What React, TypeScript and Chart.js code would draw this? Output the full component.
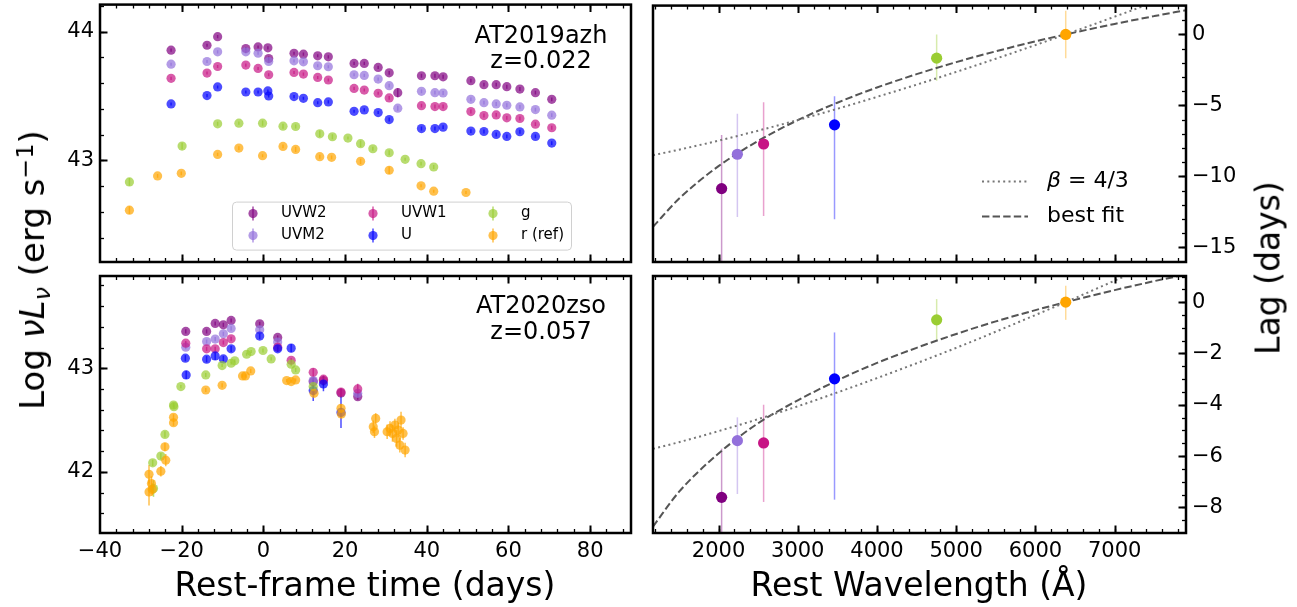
import React, { useEffect, useRef } from "react";
import { Chart, registerables } from "chart.js";

Chart.register(...registerables);

const FONT = "'DejaVu Sans', 'Liberation Sans', sans-serif";

// ---------------- AT2019azh light curves (rest-frame days, log nuLnu) ----------------
const AZH_UVW2_T = [-22.6, -13.8, -11.2, -4.3, -1.3, 1.1, 1.3, 7.5, 9.8, 13.3, 15.9, 22.2, 24.7, 28.1, 30.8, 32.9, 38.7, 42.0, 44.0, 50.8, 54.0, 57.0, 59.6, 62.8, 66.6, 70.6];
const AZH_UVW2_L = [43.856, 43.894, 43.961, 43.869, 43.881, 43.874, 43.791, 43.832, 43.825, 43.812, 43.804, 43.753, 43.753, 43.722, 43.68, 43.526, 43.657, 43.657, 43.649, 43.619, 43.588, 43.588, 43.572, 43.554, 43.526, 43.474];
const AZH_UVW2_E = [0.012, 0.012, 0.012, 0.012, 0.012, 0.012, 0.015, 0.012, 0.012, 0.012, 0.012, 0.012, 0.012, 0.012, 0.015, 0.035, 0.015, 0.015, 0.015, 0.015, 0.015, 0.015, 0.015, 0.015, 0.015, 0.015];

const AZH_UVM2_T = [-22.6, -13.8, -11.2, -4.3, -1.3, 1.3, 7.5, 9.8, 13.3, 15.9, 22.2, 24.7, 28.1, 30.8, 32.9, 38.7, 42.0, 44.0, 50.8, 54.0, 57.0, 59.6, 62.8, 66.6, 70.6];
const AZH_UVM2_L = [43.747, 43.768, 43.843, 43.843, 43.832, 43.768, 43.773, 43.765, 43.735, 43.727, 43.665, 43.66, 43.631, 43.58, 43.405, 43.536, 43.526, 43.523, 43.474, 43.448, 43.438, 43.428, 43.415, 43.394, 43.351];
const AZH_UVM2_E = [0.012, 0.012, 0.012, 0.012, 0.012, 0.012, 0.012, 0.012, 0.012, 0.012, 0.012, 0.012, 0.012, 0.015, 0.02, 0.015, 0.015, 0.015, 0.015, 0.015, 0.015, 0.015, 0.015, 0.015, 0.015];

const AZH_UVW1_T = [-22.6, -13.8, -11.2, -4.3, -1.3, 1.3, 7.5, 9.8, 13.3, 15.9, 22.2, 24.7, 28.1, 30.8, 38.7, 42.0, 44.0, 50.8, 54.0, 57.0, 59.6, 62.8, 66.6, 70.6];
const AZH_UVW1_L = [43.637, 43.678, 43.729, 43.74, 43.714, 43.665, 43.683, 43.67, 43.644, 43.624, 43.559, 43.546, 43.521, 43.485, 43.425, 43.418, 43.418, 43.379, 43.348, 43.353, 43.33, 43.325, 43.281, 43.253];
const AZH_UVW1_E = [0.012, 0.012, 0.012, 0.012, 0.012, 0.012, 0.012, 0.012, 0.012, 0.012, 0.012, 0.012, 0.012, 0.015, 0.015, 0.015, 0.015, 0.015, 0.015, 0.015, 0.015, 0.015, 0.015, 0.015];

const AZH_U_T = [-22.6, -13.8, -11.2, -4.3, -1.3, 1.1, 1.3, 7.5, 9.8, 13.3, 15.9, 22.2, 24.7, 28.1, 30.8, 38.7, 42.0, 44.0, 50.8, 54.0, 57.0, 59.6, 62.8, 66.6, 70.6];
const AZH_U_L = [43.438, 43.503, 43.57, 43.531, 43.531, 43.539, 43.5, 43.495, 43.482, 43.448, 43.454, 43.381, 43.392, 43.371, 43.317, 43.247, 43.247, 43.258, 43.227, 43.224, 43.201, 43.186, 43.222, 43.186, 43.134];
const AZH_U_E = [0.012, 0.012, 0.012, 0.012, 0.012, 0.012, 0.012, 0.012, 0.012, 0.012, 0.012, 0.012, 0.012, 0.012, 0.015, 0.015, 0.015, 0.015, 0.015, 0.015, 0.015, 0.015, 0.015, 0.015, 0.015];

const AZH_G_T = [-32.8, -19.9, -11.2, -6.0, -0.2, 4.8, 7.9, 13.8, 16.9, 20.7, 23.8, 26.8, 30.8, 34.7, 38.6, 41.7];
const AZH_G_L = [42.832, 43.111, 43.284, 43.289, 43.289, 43.265, 43.263, 43.206, 43.183, 43.173, 43.129, 43.09, 43.059, 43.008, 42.974, 42.948];
const AZH_G_E = [0.03, 0.025, 0.015, 0.012, 0.02, 0.02, 0.015, 0.025, 0.02, 0.012, 0.025, 0.015, 0.02, 0.012, 0.015, 0.015];

const AZH_R_T = [-32.8, -25.9, -20.1, -11.2, -6.0, -0.2, 4.8, 7.9, 13.8, 16.7, 23.8, 30.8, 38.6, 41.7, 49.6];
const AZH_R_L = [42.613, 42.879, 42.899, 43.046, 43.095, 43.036, 43.108, 43.085, 43.028, 43.023, 42.992, 42.923, 42.802, 42.76, 42.75];
const AZH_R_E = [0.03, 0.015, 0.015, 0.012, 0.015, 0.012, 0.015, 0.02, 0.015, 0.015, 0.02, 0.03, 0.012, 0.012, 0.012];

// ---------------- AT2020zso light curves ----------------
const ZSO_UVW2_T = [-19.0, -13.9, -11.8, -9.8, -7.9, -0.9, 3.5, 12.2, 14.7, 19.0, 23.1];
const ZSO_UVW2_L = [43.355, 43.355, 43.432, 43.419, 43.461, 43.429, 43.297, 42.87, 42.881, 42.761, 42.726];
const ZSO_UVW2_E = [0.02, 0.02, 0.02, 0.02, 0.02, 0.02, 0.02, 0.03, 0.05, 0.04, 0.03];

const ZSO_UVM2_T = [-19.0, -13.9, -11.8, -9.8, -7.9, -0.9, 3.5, 12.2, 23.1];
const ZSO_UVM2_L = [43.203, 43.258, 43.281, 43.332, 43.384, 43.371, 43.252, 42.881, 42.758];
const ZSO_UVM2_E = [0.02, 0.02, 0.02, 0.02, 0.02, 0.02, 0.02, 0.03, 0.03];

const ZSO_UVW1_T = [-19.0, -13.9, -11.8, -9.8, -7.9, 3.5, 6.8, 12.2, 14.7, 19.0, 23.1];
const ZSO_UVW1_L = [43.242, 43.187, 43.187, 43.248, 43.284, 43.203, 43.077, 42.961, 42.894, 42.77, 42.8];
const ZSO_UVW1_E = [0.02, 0.02, 0.02, 0.02, 0.02, 0.02, 0.02, 0.04, 0.03, 0.04, 0.05];

const ZSO_U_T = [-19.1, -18.9, -13.9, -11.8, -9.8, -7.9, -0.9, 3.5, 6.8, 12.2, 14.7, 19.0];
const ZSO_U_L = [43.097, 42.935, 43.087, 43.119, 43.09, 43.187, 43.31, 43.187, 43.194, 42.784, 42.848, 42.574];
const ZSO_U_E = [0.03, 0.04, 0.03, 0.04, 0.03, 0.03, 0.03, 0.03, 0.04, 0.1, 0.07, 0.15];

const ZSO_G_T = [-27.1, -26.9, -25.1, -24.1, -22.0, -21.9, -20.2, -14.1, -10.1, -7.9, -7.0, -4.1, -3.0, -0.1, 1.9, 6.8, 7.9, 12.2];
const ZSO_G_L = [42.087, 41.839, 42.152, 42.361, 42.645, 42.629, 42.823, 42.935, 43.026, 43.048, 43.071, 43.135, 43.161, 43.171, 43.09, 43.039, 42.984, 42.823];
const ZSO_G_E = [0.03, 0.08, 0.03, 0.03, 0.02, 0.02, 0.015, 0.02, 0.015, 0.015, 0.015, 0.015, 0.015, 0.02, 0.015, 0.02, 0.02, 0.03];

const ZSO_R_T = [-28.0, -28.0, -27.4, -27.2, -25.1, -24.1, -23.9, -22.0, -22.0, -14.1, -10.1, -5.1, -4.4, -3.1, 5.7, 6.8, 7.9, 12.4, 19.0, 19.1, 26.9, 27.2, 27.5, 30.3, 31.0, 31.6, 32.2, 32.6, 33.0, 33.4, 33.7, 34.2, 34.7];
const ZSO_R_L = [41.806, 41.977, 41.887, 41.83, 42.006, 42.242, 42.113, 42.526, 42.474, 42.79, 42.835, 42.926, 42.926, 42.974, 42.881, 42.871, 42.887, 42.758, 42.613, 42.558, 42.435, 42.387, 42.516, 42.387, 42.419, 42.371, 42.452, 42.323, 42.403, 42.258, 42.5, 42.371, 42.21];
const ZSO_R_E = [0.13, 0.09, 0.07, 0.06, 0.05, 0.04, 0.06, 0.03, 0.03, 0.02, 0.02, 0.015, 0.015, 0.02, 0.015, 0.015, 0.015, 0.03, 0.04, 0.04, 0.06, 0.06, 0.05, 0.07, 0.07, 0.08, 0.06, 0.08, 0.07, 0.07, 0.08, 0.06, 0.07];

// ---------------- Lags vs rest wavelength ----------------
const BAND_WL = [2039, 2238, 2569, 3464, 4753, 6382];
const AZH_LAG = [-10.86, -8.44, -7.72, -6.37, -1.67, 0];
const AZH_LAG_EHI = [3.77, 2.86, 2.95, 2.02, 1.67, 1.67];
const AZH_LAG_ELO = [6.5, 4.42, 5.07, 6.65, 1.59, 1.67];
const ZSO_LAG = [-7.61, -5.4, -5.49, -2.99, -0.69, 0];
const ZSO_LAG_EHI = [1.9, 0.91, 1.49, 1.81, 0.81, 0.64];
const ZSO_LAG_ELO = [1.9, 2.08, 2.3, 4.71, 0.78, 0.69];

const MODEL_WL = [1173, 1500, 2000, 2500, 3000, 3500, 4000, 4500, 5000, 5500, 6000, 6382, 7000, 7500, 7900];
const AZH_BETA43 = [-8.51, -8.12, -7.48, -6.78, -6.03, -5.24, -4.4, -3.54, -2.64, -1.71, -0.75, 0, 1.25, 2.28, 3.13];
const AZH_BESTFIT = [-13.55, -11.58, -9.28, -7.5, -6.04, -4.81, -3.74, -2.8, -1.95, -1.19, -0.49, 0, 0.74, 1.29, 1.71];
const ZSO_BETA43 = [-5.72, -5.46, -5.03, -4.56, -4.06, -3.52, -2.96, -2.38, -1.78, -1.15, -0.5, 0, 0.84, 1.53, 2.11];
const ZSO_BESTFIT = [-8.75, -7.4, -5.9, -4.72, -3.83, -3.05, -2.37, -1.78, -1.24, -0.75, -0.31, 0, 0.47, 0.82, 1.08];

const BAND_NAMES = ["UVW2", "UVM2", "UVW1", "U", "g", "r (ref)"];
const BAND_COLORS = ["#800080", "#9370DB", "#C71585", "#0000FF", "#9ACD32", "#FFA500"];

// ---------------- helpers ----------------
function rgba(hex: string, a: number) {
  const n = parseInt(hex.slice(1), 16);
  return `rgba(${(n >> 16) & 255},${(n >> 8) & 255},${n & 255},${a})`;
}
const pts = (xs: number[], ys: number[]) => xs.map((x, i) => ({ x, y: ys[i] }));
const fmt = (v: any) => {
  const r = Math.round(Number(v));
  return r < 0 ? "\u2212" + Math.abs(r) : String(r);
};
function tickVals(min: number, max: number, step: number) {
  const out: number[] = [];
  const k0 = Math.ceil(min / step - 1e-9);
  const k1 = Math.floor(max / step + 1e-9);
  for (let k = k0; k <= k1; k++) out.push(Math.round(k * step * 1e6) / 1e6);
  return out;
}

function lcSet(k: number, t: number[], v: number[], e: number[]) {
  return {
    label: BAND_NAMES[k],
    data: pts(t, v),
    errLo: e,
    errHi: e,
    errColor: rgba(BAND_COLORS[k], 0.7),
    errWidth: 1.5,
    showLine: false,
    pointRadius: 4.6,
    pointBackgroundColor: rgba(BAND_COLORS[k], 0.7),
    pointBorderWidth: 0,
    backgroundColor: rgba(BAND_COLORS[k], 0.7),
    borderColor: rgba(BAND_COLORS[k], 0.7),
    order: 10 - k,
  };
}
function lagSets(lag: number[], elo: number[], ehi: number[]) {
  return BAND_WL.map((w, k) => ({
    label: BAND_NAMES[k],
    data: [{ x: w, y: lag[k] }],
    errLo: [elo[k]],
    errHi: [ehi[k]],
    errColor: rgba(BAND_COLORS[k], 0.4),
    errWidth: 1.5,
    showLine: false,
    pointRadius: 5.6,
    pointBackgroundColor: BAND_COLORS[k],
    pointBorderWidth: 0,
    backgroundColor: BAND_COLORS[k],
    borderColor: BAND_COLORS[k],
    order: 10 - k,
  }));
}
function modelLine(label: string, y: number[], dash: number[], color: string) {
  return {
    label,
    data: pts(MODEL_WL, y),
    showLine: true,
    pointRadius: 0,
    borderColor: color,
    borderWidth: 2,
    borderDash: dash,
    cubicInterpolationMode: "monotone",
    fill: false,
    order: 30,
  };
}

const errorBars = {
  id: "errorBars",
  beforeDatasetsDraw(chart: any) {
    const { ctx, chartArea: a } = chart;
    ctx.save();
    ctx.beginPath();
    ctx.rect(a.left, a.top, a.right - a.left, a.bottom - a.top);
    ctx.clip();
    chart.data.datasets.forEach((ds: any, i: number) => {
      if (!ds.errLo) return;
      const meta = chart.getDatasetMeta(i);
      const ys = chart.scales[meta.yAxisID];
      ctx.strokeStyle = ds.errColor;
      ctx.lineWidth = ds.errWidth;
      ds.data.forEach((p: any, j: number) => {
        const el = meta.data[j];
        if (!el) return;
        ctx.beginPath();
        ctx.moveTo(el.x, ys.getPixelForValue(p.y - ds.errLo[j]));
        ctx.lineTo(el.x, ys.getPixelForValue(p.y + ds.errHi[j]));
        ctx.stroke();
      });
    });
    ctx.restore();
  },
};

type Spec = {
  width: number;
  height: number;
  datasets: any[];
  x: [number, number, number, number];
  y: [number, number, number, number];
  showX: boolean;
  yPos: "left" | "right";
  padding: { left: number; right: number; top: number; bottom: number };
  xHeight: number;
  yWidth: number;
  extra?: (ctx: CanvasRenderingContext2D, a: any) => void;
};

function decor(s: Spec) {
  return {
    id: "decor",
    afterDraw(chart: any) {
      const { ctx, chartArea: a, scales } = chart;
      const xs = scales.x;
      const ys = scales.y;
      ctx.save();
      ctx.strokeStyle = "#000";
      const [x0, x1, xMaj, xMin] = s.x;
      const [y0, y1, yMaj, yMin] = s.y;
      const xTick = (vals: number[], len: number, w: number) => {
        ctx.lineWidth = w;
        vals.forEach((v) => {
          const p = Math.round(xs.getPixelForValue(v)) + 0.5;
          if (p <= a.left + 1 || p >= a.right - 1) return;
          ctx.beginPath();
          ctx.moveTo(p, a.bottom);
          ctx.lineTo(p, a.bottom - len);
          ctx.moveTo(p, a.top);
          ctx.lineTo(p, a.top + len);
          ctx.stroke();
        });
      };
      const yTick = (vals: number[], len: number, w: number) => {
        ctx.lineWidth = w;
        const edge = s.yPos === "left" ? a.left : a.right;
        const dir = s.yPos === "left" ? 1 : -1;
        vals.forEach((v) => {
          const p = Math.round(ys.getPixelForValue(v)) + 0.5;
          if (p <= a.top + 1 || p >= a.bottom - 1) return;
          ctx.beginPath();
          ctx.moveTo(edge, p);
          ctx.lineTo(edge + dir * len, p);
          ctx.stroke();
        });
      };
      xTick(tickVals(x0, x1, xMin), 4, 1.3);
      xTick(tickVals(x0, x1, xMaj), 7.5, 2);
      yTick(tickVals(y0, y1, yMin), 4, 1.3);
      yTick(tickVals(y0, y1, yMaj), 7.5, 2);
      ctx.lineWidth = 2.5;
      ctx.strokeRect(a.left, a.top, a.right - a.left, a.bottom - a.top);
      if (s.extra) s.extra(ctx, a);
      ctx.restore();
    },
  };
}

function buildConfig(s: Spec): any {
  const tickFont = { family: FONT, size: 21 };
  return {
    type: "scatter",
    data: { datasets: s.datasets },
    options: {
      responsive: false,
      animation: false,
      devicePixelRatio: 1,
      events: [],
      layout: { padding: s.padding },
      plugins: { legend: { display: false }, tooltip: { enabled: false } },
      scales: {
        x: {
          type: "linear",
          min: s.x[0],
          max: s.x[1],
          grid: { display: false, drawTicks: false, tickLength: 0 },
          border: { display: false },
          ticks: {
            display: s.showX,
            autoSkip: false,
            maxRotation: 0,
            minRotation: 0,
            padding: 6,
            color: "#000",
            font: tickFont,
            callback: fmt,
          },
          afterBuildTicks: (sc: any) => {
            sc.ticks = tickVals(s.x[0], s.x[1], s.x[2]).map((value) => ({ value }));
          },
          afterFit: (sc: any) => {
            sc.height = s.xHeight;
            sc.paddingLeft = 0;
            sc.paddingRight = 0;
          },
        },
        y: {
          type: "linear",
          position: s.yPos,
          min: s.y[0],
          max: s.y[1],
          grid: { display: false, drawTicks: false, tickLength: 0 },
          border: { display: false },
          ticks: {
            autoSkip: false,
            padding: 6,
            color: "#000",
            font: tickFont,
            callback: fmt,
          },
          afterBuildTicks: (sc: any) => {
            sc.ticks = tickVals(s.y[0], s.y[1], s.y[2]).map((value) => ({ value }));
          },
          afterFit: (sc: any) => {
            sc.width = s.yWidth;
            sc.paddingTop = 0;
            sc.paddingBottom = 0;
          },
        },
      },
    },
    plugins: [errorBars, decor(s)],
  };
}

function annot(ctx: CanvasRenderingContext2D, x: number, y: number, lines: string[]) {
  ctx.fillStyle = "#000";
  ctx.font = `24px ${FONT}`;
  ctx.textAlign = "center";
  ctx.textBaseline = "middle";
  lines.forEach((t, i) => ctx.fillText(t, x, y + i * 25.5));
}

function bandLegend(ctx: CanvasRenderingContext2D, a: any) {
  const bx = a.left + 132;
  const by = a.top + 197;
  const bw = 339;
  const bh = 48;
  ctx.beginPath();
  ctx.roundRect(bx + 0.5, by + 0.5, bw, bh, 4);
  ctx.fillStyle = "rgba(255,255,255,0.8)";
  ctx.fill();
  ctx.strokeStyle = "#d0d0d0";
  ctx.lineWidth = 1;
  ctx.stroke();
  const cols = [a.left + 153, a.left + 273, a.left + 393];
  const rows = [a.top + 209, a.top + 231];
  BAND_NAMES.forEach((name, k) => {
    const cx = cols[Math.floor(k / 2)];
    const cy = rows[k % 2];
    const col = rgba(BAND_COLORS[k], 0.7);
    ctx.strokeStyle = col;
    ctx.lineWidth = 1.5;
    ctx.beginPath();
    ctx.moveTo(cx, cy - 7);
    ctx.lineTo(cx, cy + 7);
    ctx.stroke();
    ctx.fillStyle = col;
    ctx.beginPath();
    ctx.arc(cx, cy, 4.6, 0, Math.PI * 2);
    ctx.fill();
    ctx.fillStyle = "#000";
    ctx.font = `15px ${FONT}`;
    ctx.textAlign = "left";
    ctx.textBaseline = "middle";
    ctx.fillText(name, cx + 28, cy);
  });
}

function modelLegend(ctx: CanvasRenderingContext2D, a: any) {
  const x0 = a.left + 329;
  const x1 = a.left + 375;
  const tx = a.left + 394;
  const rows = [a.top + 176, a.top + 211];
  ctx.lineWidth = 2;
  ctx.strokeStyle = "#777";
  ctx.setLineDash([2, 3.3]);
  ctx.beginPath();
  ctx.moveTo(x0, rows[0]);
  ctx.lineTo(x1, rows[0]);
  ctx.stroke();
  ctx.strokeStyle = "#555";
  ctx.setLineDash([7.4, 3.2]);
  ctx.beginPath();
  ctx.moveTo(x0, rows[1]);
  ctx.lineTo(x1, rows[1]);
  ctx.stroke();
  ctx.setLineDash([]);
  ctx.fillStyle = "#000";
  ctx.textAlign = "left";
  ctx.textBaseline = "middle";
  ctx.font = `italic 22px ${FONT}`;
  ctx.fillText("\u03B2", tx, rows[0]);
  const bw = ctx.measureText("\u03B2").width;
  ctx.font = `22px ${FONT}`;
  ctx.fillText(" = 4/3", tx + bw, rows[0]);
  ctx.fillText("best fit", tx, rows[1]);
}

const SPECS: { left: number; top: number; spec: Spec }[] = [
  {
    left: 0,
    top: 0,
    spec: {
      width: 640,
      height: 268,
      datasets: [
        lcSet(0, AZH_UVW2_T, AZH_UVW2_L, AZH_UVW2_E),
        lcSet(1, AZH_UVM2_T, AZH_UVM2_L, AZH_UVM2_E),
        lcSet(2, AZH_UVW1_T, AZH_UVW1_L, AZH_UVW1_E),
        lcSet(3, AZH_U_T, AZH_U_L, AZH_U_E),
        lcSet(4, AZH_G_T, AZH_G_L, AZH_G_E),
        lcSet(5, AZH_R_T, AZH_R_L, AZH_R_E),
      ],
      x: [-40, 90, 20, 4],
      y: [42.21, 44.21, 1, 0.2],
      showX: false,
      yPos: "left",
      padding: { left: 0, right: 9, top: 4, bottom: 0 },
      xHeight: 6,
      yWidth: 100,
      extra: (ctx, a) => {
        annot(ctx, a.left + 441, a.top + 32, ["AT2019azh", "z=0.022"]);
        bandLegend(ctx, a);
      },
    },
  },
  {
    left: 0,
    top: 268,
    spec: {
      width: 640,
      height: 339,
      datasets: [
        lcSet(0, ZSO_UVW2_T, ZSO_UVW2_L, ZSO_UVW2_E),
        lcSet(1, ZSO_UVM2_T, ZSO_UVM2_L, ZSO_UVM2_E),
        lcSet(2, ZSO_UVW1_T, ZSO_UVW1_L, ZSO_UVW1_E),
        lcSet(3, ZSO_U_T, ZSO_U_L, ZSO_U_E),
        lcSet(4, ZSO_G_T, ZSO_G_L, ZSO_G_E),
        lcSet(5, ZSO_R_T, ZSO_R_L, ZSO_R_E),
      ],
      x: [-40, 90, 20, 4],
      y: [41.41, 43.89, 1, 0.2],
      showX: true,
      yPos: "left",
      padding: { left: 0, right: 9, top: 8, bottom: 0 },
      xHeight: 74,
      yWidth: 100,
      extra: (ctx, a) => {
        annot(ctx, a.left + 441, a.top + 31, ["AT2020zso", "z=0.057"]);
      },
    },
  },
  {
    left: 640,
    top: 0,
    spec: {
      width: 657,
      height: 268,
      datasets: [
        modelLine("\u03B2 = 4/3", AZH_BETA43, [2, 3.3], "#777"),
        modelLine("best fit", AZH_BESTFIT, [7.4, 3.2], "#555"),
        ...lagSets(AZH_LAG, AZH_LAG_ELO, AZH_LAG_EHI),
      ],
      x: [1173, 7900, 1000, 200],
      y: [-16.03, 2.03, 5, 1],
      showX: false,
      yPos: "right",
      padding: { left: 13, right: 0, top: 4, bottom: 0 },
      xHeight: 6,
      yWidth: 111,
      extra: (ctx, a) => modelLegend(ctx, a),
    },
  },
  {
    left: 640,
    top: 268,
    spec: {
      width: 657,
      height: 339,
      datasets: [
        modelLine("\u03B2 = 4/3", ZSO_BETA43, [2, 3.3], "#777"),
        modelLine("best fit", ZSO_BESTFIT, [7.4, 3.2], "#555"),
        ...lagSets(ZSO_LAG, ZSO_LAG_ELO, ZSO_LAG_EHI),
      ],
      x: [1173, 7900, 1000, 200],
      y: [-9.0, 1.02, 2, 0.5],
      showX: true,
      yPos: "right",
      padding: { left: 13, right: 0, top: 8, bottom: 0 },
      xHeight: 74,
      yWidth: 111,
    },
  },
];

function Panel({ left, top, spec }: { left: number; top: number; spec: Spec }) {
  const ref = useRef<HTMLCanvasElement>(null);
  useEffect(() => {
    const chart = new Chart(ref.current as HTMLCanvasElement, buildConfig(spec));
    return () => chart.destroy();
  }, []);
  return (
    <canvas
      ref={ref}
      width={spec.width}
      height={spec.height}
      style={{ position: "absolute", left, top, width: spec.width, height: spec.height }}
    />
  );
}

const titleStyle: React.CSSProperties = {
  position: "absolute",
  fontSize: 33,
  lineHeight: 1,
  whiteSpace: "nowrap",
  color: "#000",
  fontFamily: FONT,
};

export default function App() {
  return (
    <div
      style={{
        position: "absolute",
        left: 0,
        top: 0,
        width: 1297,
        height: 607,
        background: "#fff",
        overflow: "hidden",
        fontFamily: FONT,
      }}
    >
      {SPECS.map((p, i) => (
        <Panel key={i} left={p.left} top={p.top} spec={p.spec} />
      ))}
      <div style={{ ...titleStyle, fontSize: 34, left: 32, top: 270, transform: "translate(-50%,-50%) rotate(-90deg)" }}>
        Log <i>&nu;L</i>
        <span style={{ fontSize: "0.7em", position: "relative", top: "0.25em" }}>
          <i>&nu;</i>
        </span>{" "}
        (erg s<span style={{ fontSize: "0.7em", position: "relative", top: "-0.45em" }}>&minus;1</span>)
      </div>
      <div style={{ ...titleStyle, left: 1268, top: 268, transform: "translate(-50%,-50%) rotate(-90deg)" }}>
        Lag (days)
      </div>
      <div style={{ ...titleStyle, left: 365, top: 584, transform: "translate(-50%,-50%)" }}>
        Rest-frame time (days)
      </div>
      <div style={{ ...titleStyle, left: 919, top: 584, transform: "translate(-50%,-50%)" }}>
        Rest Wavelength (&Aring;)
      </div>
    </div>
  );
}
